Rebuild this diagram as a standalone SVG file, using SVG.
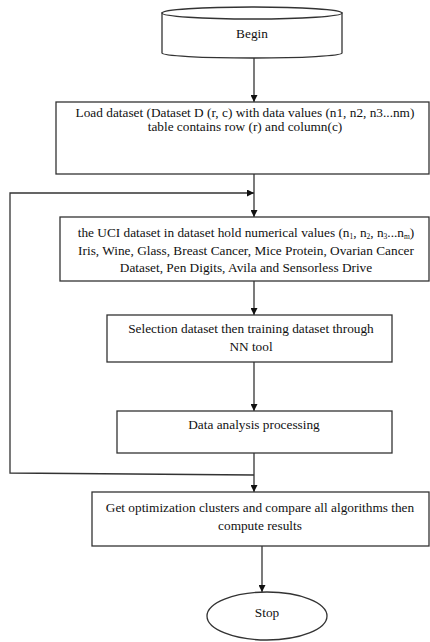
<svg xmlns="http://www.w3.org/2000/svg" width="430" height="642" viewBox="0 0 430 642">
<style>
.shape{fill:#fff;stroke:#333;stroke-width:1.3}
.ln{fill:none;stroke:#333;stroke-width:1.3}
text{font-family:"Liberation Serif","Times New Roman",serif;font-size:13.3px;fill:#111;text-anchor:middle}
</style>
<defs>
<marker id="ah" viewBox="0 0 8 8" refX="8" refY="4" markerWidth="7" markerHeight="7" markerUnits="userSpaceOnUse" orient="auto">
<path d="M0,0 L8,4 L0,8 Z" fill="#111"/>
</marker>
</defs>
<rect width="430" height="642" fill="#fff"/>
<g id="connectors">
<line class="ln" x1="254" y1="58" x2="254" y2="102" marker-end="url(#ah)"/>
<line class="ln" x1="254" y1="174" x2="254" y2="217" marker-end="url(#ah)"/>
<line class="ln" x1="254" y1="281" x2="254" y2="315" marker-end="url(#ah)"/>
<line class="ln" x1="254" y1="362" x2="254" y2="411" marker-end="url(#ah)"/>
<line class="ln" x1="254" y1="453" x2="254" y2="492" marker-end="url(#ah)"/>
<polyline class="ln" points="254,475 10,473 10,193 254,193" marker-end="url(#ah)"/>
<line class="ln" x1="262" y1="546" x2="262" y2="592" marker-end="url(#ah)"/>
</g>
<g id="begin">
<path class="shape" d="M162,13 L162,53 A90,5 0 0,0 342,53 L342,13 Z"/>
<ellipse class="shape" cx="252" cy="13" rx="90" ry="6"/>
<text x="252" y="38">Begin</text>
</g>
<g id="load">
<rect class="shape" x="56" y="102" width="373" height="72"/>
<text x="245" y="117">Load dataset (Dataset D (r, c) with data values (n1, n2, n3...nm)</text>
<text x="245" y="131">table contains row (r) and column(c)</text>
</g>
<g id="uci">
<rect class="shape" x="60" y="217" width="369" height="64"/>
<text x="246" y="237">the UCI dataset in dataset hold numerical values (n<tspan font-size="7.5" dy="2">1</tspan><tspan dy="-2">, n</tspan><tspan font-size="7.5" dy="2">2</tspan><tspan dy="-2">, n</tspan><tspan font-size="7.5" dy="2">3</tspan><tspan dy="-2">...n</tspan><tspan font-size="7.5" dy="2">m</tspan><tspan dy="-2">)</tspan></text>
<text x="246" y="255">Iris, Wine, Glass, Breast Cancer, Mice Protein, Ovarian Cancer</text>
<text x="246" y="272">Dataset, Pen Digits, Avila and Sensorless Drive</text>
</g>
<g id="selection">
<rect class="shape" x="107" y="315" width="285" height="47"/>
<text x="251" y="333">Selection dataset then training dataset through</text>
<text x="251" y="351">NN tool</text>
</g>
<g id="analysis">
<rect class="shape" x="117" y="411" width="275" height="42"/>
<text x="254" y="429">Data analysis processing</text>
</g>
<g id="optimize">
<rect class="shape" x="92" y="492" width="337" height="54"/>
<text x="260" y="512">Get optimization clusters and compare all algorithms then</text>
<text x="260" y="530">compute results</text>
</g>
<g id="stop">
<ellipse class="shape" cx="267" cy="616" rx="60" ry="24"/>
<text x="267" y="617">Stop</text>
</g>
</svg>
